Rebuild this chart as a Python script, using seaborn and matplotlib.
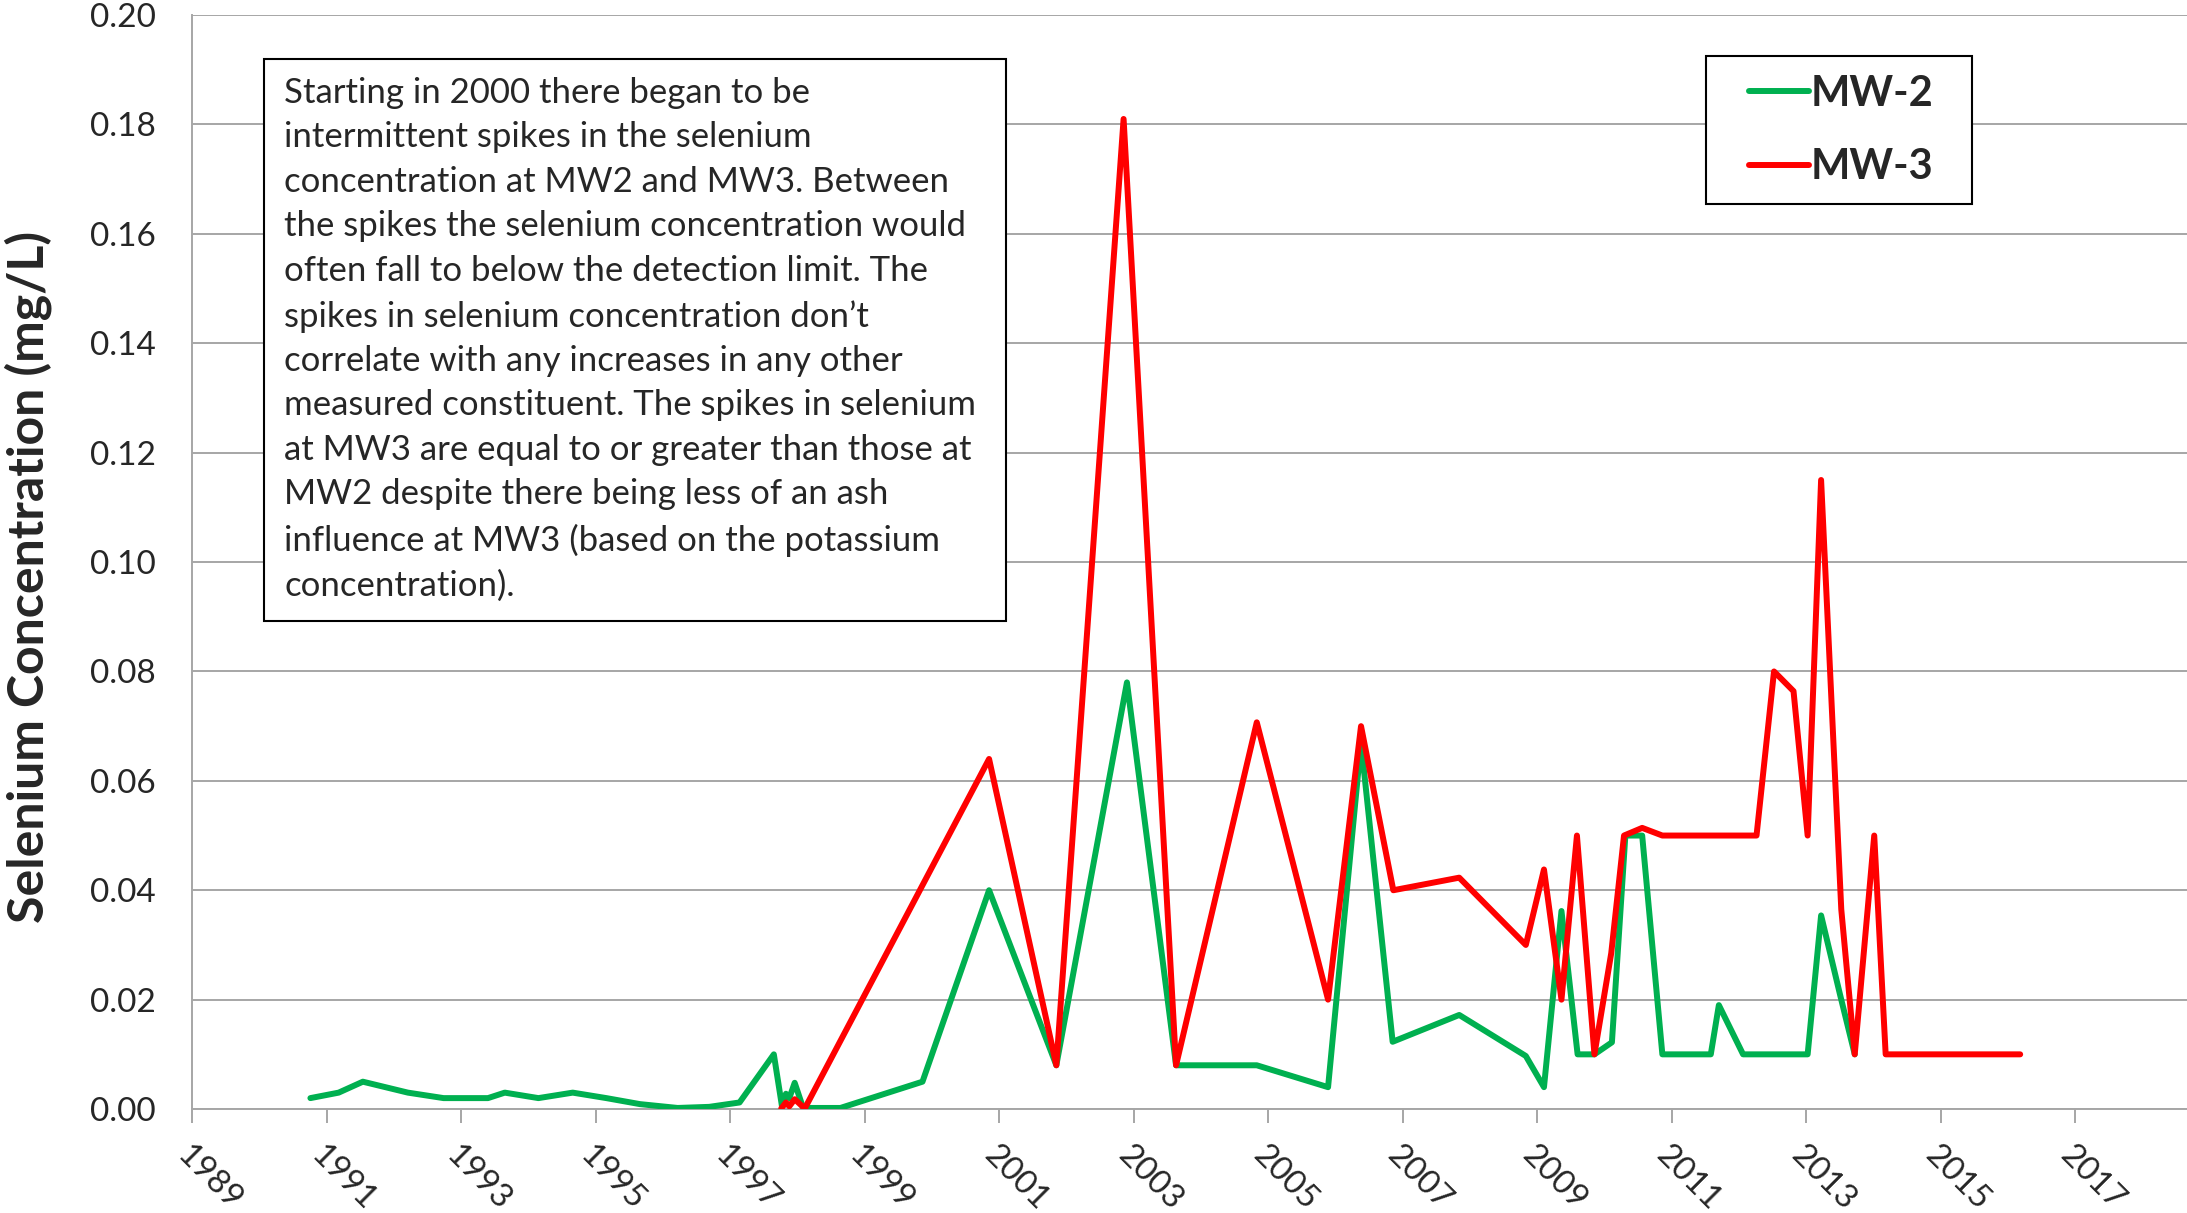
import numpy as np
import pandas as pd
import matplotlib
matplotlib.use('Agg')
import matplotlib.pyplot as plt
import seaborn as sns
from matplotlib.patches import Rectangle

# MW-2 selenium (decimal year, mg/L)
mw2_year = [1990.76, 1991.18, 1991.54, 1992.21, 1992.74, 1993.40, 1993.65, 1994.15,
            1994.66, 1995.16, 1995.66, 1996.22, 1996.69, 1997.14, 1997.65, 1997.77,
            1997.83, 1997.88, 1997.96, 1998.08, 1998.14, 1998.64, 1999.86, 2000.85,
            2001.85, 2002.90, 2003.63, 2004.83, 2005.89, 2006.38, 2006.85, 2007.84,
            2008.83, 2009.10, 2009.36, 2009.60, 2009.85, 2010.11, 2010.31, 2010.56,
            2010.86, 2011.58, 2011.70, 2012.06, 2013.02, 2013.22, 2013.50, 2013.72]
mw2_se = [0.002, 0.003, 0.005, 0.003, 0.002, 0.002, 0.003, 0.002,
          0.003, 0.002, 0.0009, 0.0002, 0.0004, 0.0012, 0.010, 0.0006,
          0.0028, 0.002, 0.0048, 0.0004, 0.0002, 0.0002, 0.005, 0.040,
          0.008, 0.078, 0.008, 0.008, 0.004, 0.067, 0.0123, 0.0172,
          0.0097, 0.004, 0.0362, 0.010, 0.010, 0.0122, 0.050, 0.050,
          0.010, 0.010, 0.019, 0.010, 0.010, 0.0354, 0.021, 0.010]

# MW-3 selenium (decimal year, mg/L)
mw3_year = [1997.76, 1997.83, 1997.88, 1997.96, 1998.11, 2000.85, 2001.85, 2002.85,
            2003.63, 2004.83, 2005.89, 2006.38, 2006.86, 2007.84, 2008.83, 2009.10,
            2009.36, 2009.59, 2009.85, 2010.10, 2010.29, 2010.56, 2010.86, 2012.26,
            2012.52, 2012.81, 2013.02, 2013.22, 2013.52, 2013.72, 2014.01, 2014.18,
            2016.18]
mw3_se = [0.0001, 0.0012, 0.0005, 0.0018, 0.0001, 0.064, 0.008, 0.181,
          0.008, 0.0707, 0.020, 0.070, 0.040, 0.0423, 0.030, 0.0438,
          0.020, 0.050, 0.010, 0.0285, 0.050, 0.0514, 0.050, 0.050,
          0.080, 0.0764, 0.050, 0.115, 0.0365, 0.010, 0.050, 0.010,
          0.010]

wells = ['MW-2', 'MW-3']
well_colors = ['#00B050', '#FF0000']
x_ticks = list(range(1989, 2018, 2))
y_ticks = [0.00, 0.02, 0.04, 0.06, 0.08, 0.10, 0.12, 0.14, 0.16, 0.18, 0.20]

note_lines = [
    "Starting in 2000 there began to be",
    "intermittent spikes in the selenium",
    "concentration at MW2 and MW3. Between",
    "the spikes the selenium concentration would",
    "often fall to below the detection limit. The",
    "spikes in selenium concentration don\u2019t",
    "correlate with any increases in any other",
    "measured constituent. The spikes in selenium",
    "at MW3 are equal to or greater than those at",
    "MW2 despite there being less of an ash",
    "influence at MW3 (based on the potassium",
    "concentration).",
]

sns.set_theme(style='white')
plt.rcParams['font.family'] = ['Lato', 'DejaVu Sans']

df = pd.concat([
    pd.DataFrame({'year': mw2_year, 'se': mw2_se, 'well': wells[0]}),
    pd.DataFrame({'year': mw3_year, 'se': mw3_se, 'well': wells[1]}),
], ignore_index=True)

fig = plt.figure(figsize=(21.87, 12.13), dpi=100)
ax = fig.add_axes([0.0878, 0.0857, 0.9122, 0.9019])

sns.lineplot(data=df, x='year', y='se', hue='well', hue_order=wells,
             palette=well_colors, estimator=None, sort=False, linewidth=4.3,
             solid_capstyle='round', solid_joinstyle='round', ax=ax, zorder=3)

ax.set_xlim(1989, 2018.66)
ax.set_ylim(0, 0.2)
ax.set_xticks(x_ticks)
ax.set_yticks(y_ticks)
ax.set_yticklabels([f'{v:.2f}' for v in y_ticks])
ax.yaxis.grid(True, color='#A6A6A6', linewidth=1.4, zorder=0)
ax.xaxis.grid(False)
ax.set_axisbelow(True)
for side in ['top', 'right']:
    ax.spines[side].set_visible(False)
for side in ['left', 'bottom']:
    ax.spines[side].set_color('#A6A6A6')
    ax.spines[side].set_linewidth(1.4)

ax.tick_params(axis='x', direction='out', length=10, width=1.4, color='#A6A6A6',
               pad=12, labelsize=24, bottom=True)
ax.tick_params(axis='y', length=0, pad=26, labelsize=24)
plt.setp(ax.get_xticklabels(), rotation=-45, ha='left', va='top', rotation_mode='anchor')

ax.set_xlabel('')
ax.set_ylabel('Selenium Concentration (mg/L)', fontsize=36, fontweight='bold')
ax.yaxis.set_label_coords(-0.070, 0.486)

# legend, frame drawn separately underneath it
handles, labels = ax.get_legend_handles_labels()
leg = ax.legend(handles, labels, loc='center left', bbox_to_anchor=(0.790, 0.8923),
                bbox_transform=fig.transFigure, frameon=False,
                prop={'weight': 'bold', 'size': 30}, handlelength=1.45,
                handletextpad=0.05, labelspacing=0.85, borderpad=0)
leg.set_zorder(6)
for line in leg.get_lines():
    line.set_linewidth(4.3)
ax.add_patch(Rectangle((0.780, 1 - 204 / 1213), (1972 - 1706) / 2187, 148 / 1213,
                       transform=fig.transFigure, facecolor='white', clip_on=False,
                       edgecolor='black', linewidth=1.5, zorder=4))

# note box
ax.add_patch(Rectangle((264 / 2187, 1 - 621 / 1213), (1006 - 264) / 2187, 562 / 1213,
                       transform=fig.transFigure, facecolor='white', clip_on=False,
                       edgecolor='black', linewidth=1.5, zorder=4))
ax.text(284 / 2187, 1 - 77 / 1213, '\n'.join(note_lines), fontsize=25,
        linespacing=1.48, ha='left', va='top', zorder=5, transform=fig.transFigure)

fig.savefig('out.png', dpi=100)
